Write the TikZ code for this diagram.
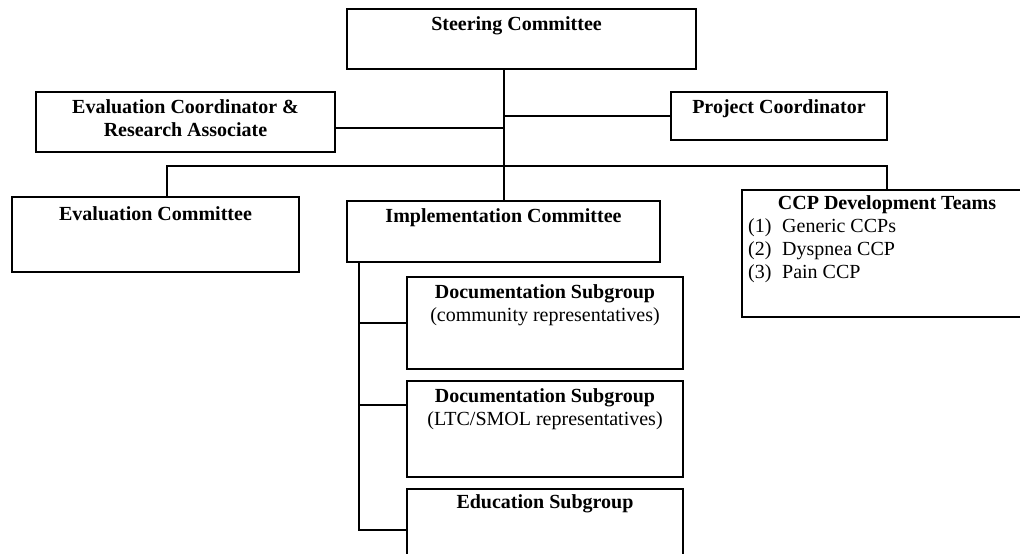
\documentclass[tikz,border=0pt]{standalone}
\usepackage{fontspec}
\setmainfont{Liberation Serif}
\usetikzlibrary{positioning}

\begin{document}
\begin{tikzpicture}[
                    x=1pt, y=-1pt,
                    every node/.style={font=\fontsize{20}{23}\selectfont},
                    unit/.style={draw, line width=2.2pt, inner sep=0pt, outer sep=0pt, anchor=north west},
                    head/.style={align=center, inner sep=0pt, font=\fontsize{20}{23}\selectfont\bfseries},
                    items/.style={align=left, inner sep=0pt},
                    link/.style={line width=2pt}
                ]
                  \useasboundingbox (0,0) rectangle (1020,554);
                  \clip (0,0) rectangle (1020,554);

                  \node[unit, minimum width=349pt, minimum height=60pt] (steer) at (347,9) {};
                  \node[unit, minimum width=299pt, minimum height=60pt] (evco) at (36,92) {};
                  \node[unit, minimum width=216pt, minimum height=48pt] (proj) at (671,92) {};
                  \node[unit, minimum width=287pt, minimum height=75pt] (evcm) at (12,197) {};
                  \node[unit, minimum width=313pt, minimum height=61pt] (impl) at (347,201) {};
                  \node[unit, minimum width=290pt, minimum height=127pt] (ccp) at (742,190) {};
                  \node[unit, minimum width=276pt, minimum height=92pt] (doca) at (407,277) {};
                  \node[unit, minimum width=276pt, minimum height=96pt] (docb) at (407,381) {};
                  \node[unit, minimum width=276pt, minimum height=82pt] (edu) at (407,489) {};

                  \node[head, below=7pt of steer.north, xshift=-5pt] (steertxt) {Steering Committee};
                  \node[head, below=7pt of evco.north] (evcotxt) {Evaluation Coordinator \&\\Research Associate};
                  \node[head, below=7pt of proj.north] (projtxt) {Project Coordinator};
                  \node[head, below=9pt of evcm.north] (evcmtxt) {Evaluation Committee};
                  \node[head, below=7pt of impl.north] (impltxt) {Implementation Committee};
                  \node[head, below=5pt of ccp.north] (ccptxt) {CCP Development Teams};
                  \node[items, below right=28pt and 6pt of ccp.north west] (ccplist)
                    {\makebox[34pt][l]{(1)}Generic CCPs\\
                     \makebox[34pt][l]{(2)}Dyspnea CCP\\
                     \makebox[34pt][l]{(3)}Pain CCP};
                  \node[head, below=7pt of doca.north] (docatxt) {Documentation Subgroup\\\textmd{(community representatives)}};
                  \node[head, below=7pt of docb.north] (docbtxt) {Documentation Subgroup\\\textmd{(LTC/SMOL representatives)}};
                  \node[head, below=5pt of edu.north] (edutxt) {Education Subgroup};

                  \coordinate (bus) at (503,166);
                  \coordinate (evcojoin) at ([yshift=-6pt]evco.east);
                  \coordinate (evcmdrop) at ([xshift=11pt]evcm.north);
                  \coordinate (stem) at ([xshift=12pt]impl.south west);
                  \coordinate (docbjoin) at ([yshift=24pt]docb.west);

                  \draw[link] (impl.north) -- (impl.north |- steer.south);
                  \draw[link] (evcojoin) -- (evcojoin -| impl.north);
                  \draw[link] (proj.west) -- (proj.west -| impl.north);
                  \draw[link] (evcmdrop) |- (bus) -| (ccp.north);
                  \draw[link] (stem) |- (edu.west);
                  \draw[link] (doca.west) -- (doca.west -| stem);
                  \draw[link] (docbjoin) -- (docbjoin -| stem);
                \end{tikzpicture}
\end{document}
